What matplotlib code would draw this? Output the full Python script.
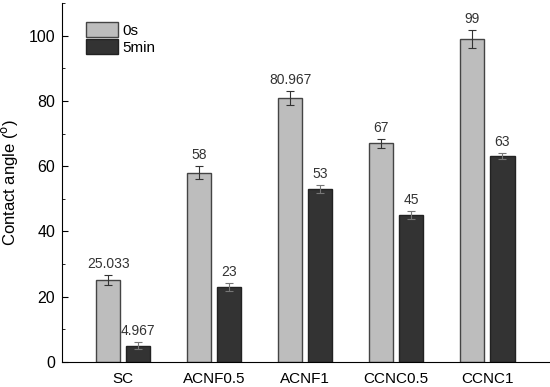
import numpy as np
import matplotlib.pyplot as plt
from matplotlib.ticker import MultipleLocator

plt.rcParams['font.family'] = ['Liberation Sans', 'DejaVu Sans']

# Data
samples = ['SC', 'ACNF0.5', 'ACNF1', 'CCNC0.5', 'CCNC1']
angle_0s = [25.033, 58, 80.967, 67, 99]
angle_5min = [4.967, 23, 53, 45, 63]
err_0s = [1.5, 1.9, 2.1, 1.4, 2.8]
err_5min = [1.1, 1.2, 1.1, 1.1, 0.9]
labels_0s = ['25.033', '58', '80.967', '67', '99']
labels_5min = ['4.967', '23', '53', '45', '63']

x = np.arange(len(samples))
w = 0.27
off = 0.165

fig = plt.figure(figsize=(5.5, 3.87), dpi=100)
ax = fig.add_axes([0.113, 0.065, 0.887, 0.927])

ax.bar(x - off, angle_0s, w, color='#bdbdbd', edgecolor='#444444', lw=1.0,
       yerr=err_0s, capsize=3, error_kw=dict(lw=0.8, capthick=0.8, ecolor='#333333'),
       label='0s', zorder=2)
ax.bar(x + off, angle_5min, w, color='#333333', edgecolor='#222222', lw=1.0,
       yerr=err_5min, capsize=3, error_kw=dict(lw=0.8, capthick=0.8, ecolor='#777777'),
       label='5min', zorder=2)

for xi, v, e, t in zip(x - off, angle_0s, err_0s, labels_0s):
    ax.text(xi, v + e + 1.3, t, ha='center', va='bottom', fontsize=10, color='#333333')
for xi, v, e, t in zip(x + off, angle_5min, err_5min, labels_5min):
    ax.text(xi, v + e + 1.3, t, ha='center', va='bottom', fontsize=10, color='#333333')

ax.set_xlim(-0.67, 4.69)
ax.set_ylim(0, 110)
ax.set_xticks(x)
ax.set_xticklabels(samples, fontsize=11)
ax.tick_params(axis='x', length=0, pad=7)
ax.yaxis.set_major_locator(MultipleLocator(20))
ax.yaxis.set_minor_locator(MultipleLocator(10))
ax.tick_params(axis='y', which='major', direction='in', length=4, labelsize=11.5, pad=5)
ax.tick_params(axis='y', which='minor', direction='in', length=2.5)
ax.set_ylabel('Contact angle ($^{\\mathrm{o}}$)', fontsize=12, labelpad=6)
ax.spines['top'].set_visible(False)
ax.spines['right'].set_visible(False)

ax.legend(loc='upper left', bbox_to_anchor=(0.02, 0.985), frameon=False, fontsize=11,
          handlelength=2.1, handleheight=1.15, labelspacing=0.05, handletextpad=0.3)

fig.savefig('out.png', dpi=100)
